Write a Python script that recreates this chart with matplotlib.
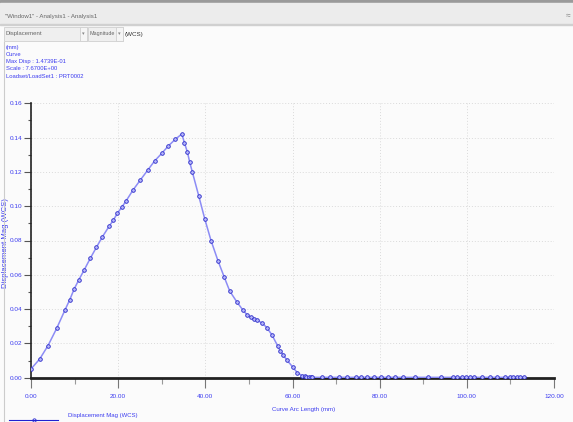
import matplotlib.pyplot as plt
from matplotlib.patches import Rectangle
from matplotlib.ticker import MultipleLocator, FormatStrFormatter

# arc length (mm) and displacement magnitude along the curve
arc_len = [0.0, 2.0, 3.9, 5.9, 7.8, 8.9, 9.9, 11.0, 12.2, 13.6, 15.0, 16.4, 17.9,
           18.9, 19.8, 20.8, 21.8, 23.4, 25.1, 26.8, 28.4, 30.0, 31.5, 33.1, 34.6,
           35.2, 35.9, 36.4, 37.0, 38.5, 39.9, 41.3, 42.9, 44.3, 45.6, 47.2, 48.6,
           49.6, 50.4, 51.1, 51.9, 53.1, 54.1, 55.3, 56.6, 57.2, 57.9, 58.7, 60.0,
           61.1, 62.2, 62.8, 63.2, 63.8, 64.2, 64.5, 66.7, 68.7, 70.6, 72.5, 74.5,
           75.8, 77.2, 78.6, 80.3, 81.9, 83.5, 85.3, 88.1, 91.1, 94.0, 96.9, 97.8,
           98.8, 99.8, 100.7, 101.6, 103.4, 105.3, 106.9, 108.7, 109.9, 110.6,
           111.4, 112.2, 113.1]
disp = [0.0051, 0.0109, 0.0187, 0.0288, 0.0395, 0.0455, 0.0517, 0.0572, 0.0628,
        0.0696, 0.0760, 0.0822, 0.0882, 0.0919, 0.0958, 0.0993, 0.1030, 0.1094,
        0.1153, 0.1211, 0.1265, 0.1308, 0.1351, 0.1390, 0.1421, 0.1370, 0.1314,
        0.1258, 0.1201, 0.1059, 0.0923, 0.0800, 0.0682, 0.0589, 0.0505, 0.0443,
        0.0395, 0.0366, 0.0352, 0.0342, 0.0336, 0.0317, 0.0292, 0.0249, 0.0185,
        0.0156, 0.0132, 0.0103, 0.0064, 0.0029, 0.0012, 0.0008, 0.0005, 0.0004,
        0.0003, 0.0002, 0.0002, 0.0002, 0.0002, 0.0002, 0.0002, 0.0002, 0.0002,
        0.0002, 0.0002, 0.0002, 0.0002, 0.0002, 0.0002, 0.0002, 0.0002, 0.0002,
        0.0002, 0.0002, 0.0002, 0.0002, 0.0002, 0.0002, 0.0002, 0.0002, 0.0002,
        0.0002, 0.0002, 0.0002, 0.0002, 0.0002]

header_lines = ["(mm)", "Curve", "Max Disp : 1.4739E-01", "Scale : 7.6700E+00",
                "Loadset/LoadSet1 : PRT0002"]
window_title = '"Window1" - Analysis1 - Analysis1'
series_name = "Displacement Mag (WCS)"

plt.rcParams['font.family'] = ['Liberation Sans', 'DejaVu Sans']
blue_txt = "#3c3cf0"
line_col = "#8c8cf5"
mark_col = "#2828c8"

fig = plt.figure(figsize=(5.73, 4.22), dpi=100)
fig.patch.set_facecolor("#fbfbfb")

W, H = 573.0, 422.0


def fx(px):
    return px / W


def fy(py):
    return 1 - py / H


# window frame: title bar and drop-down row
fig.patches.append(Rectangle((0, fy(3)), 1, 3 / H, transform=fig.transFigure,
                             color="#9a9a9a", zorder=0))
fig.patches.append(Rectangle((0, fy(24)), 1, 21 / H, transform=fig.transFigure,
                             color="#ececec", zorder=0))
fig.patches.append(Rectangle((0, fy(25)), 1, 1 / H, transform=fig.transFigure,
                             color="#d0d0d0", zorder=0))
fig.text(fx(5), fy(16.5), window_title, fontsize=4.4, color="#666666", va="center")
fig.text(fx(566), fy(16), "\u2248", fontsize=6, color="#888888", va="center")

for x0, x1, label, fs in [(4, 87, "Displacement", 4.3), (88, 123, "Magnitude", 3.9)]:
    fig.patches.append(Rectangle((fx(x0), fy(41)), (x1 - x0) / W, 14 / H,
                                 transform=fig.transFigure, facecolor="#efefef",
                                 edgecolor="#d0d0d0", lw=0.6, zorder=0))
    fig.patches.append(Rectangle((fx(x1 - 7), fy(41)), 7 / W, 14 / H,
                                 transform=fig.transFigure, facecolor="#f5f5f5",
                                 edgecolor="#d0d0d0", lw=0.6, zorder=0))
    fig.text(fx(x0 + 2), fy(34), label, fontsize=fs, color="#666666", va="center")
    fig.text(fx(x1 - 3.5), fy(34), "\u25be", fontsize=3.8, color="#888888",
             va="center", ha="center")
fig.text(fx(124.5), fy(34.5), "(WCS)", fontsize=4.5, color="#333333", va="center")

# left edge of the plot panel
fig.lines.append(plt.Line2D([fx(4), fx(4)], [fy(42), 0], transform=fig.transFigure,
                            color="#cccccc", lw=0.8))

for i, s in enumerate(header_lines):
    fig.text(fx(6), fy(48 + i * 7.0), s, fontsize=4.2, color=blue_txt, va="center")

ax = fig.add_axes([fx(31), fy(377.7), (554 - 31) / W, (377.7 - 103.3) / H])
ax.set_facecolor("#fbfbfb")
ax.plot(arc_len, disp, color=line_col, lw=1.1, marker="o", ms=2.6,
        mfc="#b8b8fa", mec=mark_col, mew=0.6, zorder=3)

ax.set_xlim(0, 120)
ax.set_ylim(0, 0.16)
ax.xaxis.set_major_locator(MultipleLocator(20))
ax.xaxis.set_minor_locator(MultipleLocator(10))
ax.yaxis.set_major_locator(MultipleLocator(0.02))
ax.yaxis.set_minor_locator(MultipleLocator(0.01))
ax.xaxis.set_major_formatter(FormatStrFormatter("%.2f"))
ax.yaxis.set_major_formatter(FormatStrFormatter("%.2f"))

ax.grid(True, which="major", color="#dadada", ls=(0, (1, 2)), lw=0.7)
for side in ["top", "right"]:
    ax.spines[side].set_visible(False)
ax.spines["left"].set_linewidth(1.2)
ax.spines["bottom"].set_linewidth(2.0)
ax.spines["left"].set_color("#222222")
ax.spines["bottom"].set_color("#222222")

ax.tick_params(which="major", axis="x", length=7, width=0.8, color="#777777",
               labelsize=4.6, labelcolor=blue_txt, pad=5)
ax.tick_params(which="minor", axis="x", length=4, width=0.8, color="#999999")
ax.tick_params(which="major", axis="y", length=5, width=0.8, color="#555555",
               labelsize=4.6, labelcolor=blue_txt, pad=1.5)
ax.tick_params(which="minor", axis="y", length=2.5, width=0.8, color="#555555")

ax.set_xlabel("Curve Arc Length (mm)", fontsize=4.4, color=blue_txt)
ax.xaxis.set_label_coords((304 - 31) / 523.0, -(407 - 377.7) / 274.4)
ax.set_ylabel(series_name, fontsize=5.6, color=blue_txt)
ax.yaxis.set_label_coords(-(31 - 9) / 523.0, (377.7 - 243) / 274.4)

# legend entry at the bottom
fig.lines.append(plt.Line2D([fx(9), fx(58)], [fy(419.5), fy(419.5)],
                            transform=fig.transFigure, color="#2020d0", lw=0.8))
fig.lines.append(plt.Line2D([fx(34)], [fy(419.5)], transform=fig.transFigure,
                            marker="o", ms=2.4, mfc="none", mec="#2020d0", mew=0.6))
fig.text(fx(68), fy(416), series_name, fontsize=4.3, color=blue_txt, va="center")

fig.savefig("out.png", dpi=100, facecolor=fig.get_facecolor())
